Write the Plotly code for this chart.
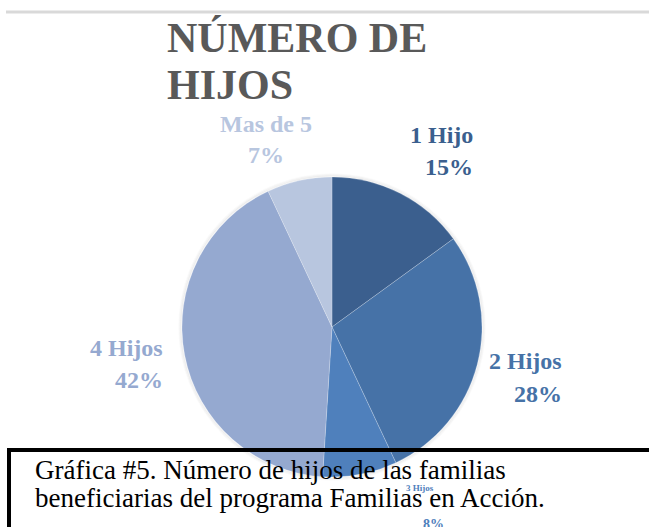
import plotly.graph_objects as go

# ---- data ----
categories = ["1 Hijo", "2 Hijos", "3 Hijos", "4 Hijos", "Mas de 5"]
percentages = [15, 28, 8, 42, 7]
slice_colors = ["#3b5f8e", "#4672a7", "#4f80bc", "#95a9d0", "#b8c6df"]
title_lines = ["NÚMERO DE", "HIJOS"]
caption_lines = ["Gráfica #5. Número de hijos de las familias",
                 "beneficiarias del programa Familias en Acción."]

W, H = 649, 527

def px(x):
    return x / W

def py(y):
    return 1 - y / H

SERIF = "Liberation Serif"

fig = go.Figure()

# pie: center (332, 327), radius 150
cx, cy, r = 332, 327, 150
fig.add_trace(go.Pie(
    labels=categories,
    values=percentages,
    sort=False,
    direction="clockwise",
    rotation=0,
    marker=dict(colors=slice_colors, line=dict(color="rgba(255,255,255,0.35)", width=0.6)),
    textinfo="none",
    hoverinfo="label+percent",
    showlegend=False,
    domain=dict(x=[px(cx - r), px(cx + r)], y=[py(cy + r), py(cy - r)]),
))

shapes = []
# soft shadow ring behind pie
for i, a in enumerate([0.05, 0.035, 0.02]):
    d = 1 + i
    shapes.append(dict(type="circle", xref="paper", yref="paper",
                       x0=px(cx - r - d), x1=px(cx + r + d),
                       y0=py(cy + r + d), y1=py(cy - r - d),
                       line=dict(color=f"rgba(0,0,0,{a})", width=1.5),
                       fillcolor="rgba(0,0,0,0)", layer="below"))
# gray rule at top
shapes.append(dict(type="line", xref="paper", yref="paper",
                   x0=px(6), x1=px(652), y0=py(12), y1=py(12),
                   line=dict(color="#d9d9d9", width=3), layer="above"))
# caption text box border (open to the right/bottom)
shapes.append(dict(type="line", xref="paper", yref="paper",
                   x0=px(9), x1=px(655), y0=py(450), y1=py(450),
                   line=dict(color="#000000", width=4), layer="above"))
shapes.append(dict(type="line", xref="paper", yref="paper",
                   x0=px(9), x1=px(9), y0=py(448), y1=py(540),
                   line=dict(color="#000000", width=4), layer="above"))

annotations = []

def add_text(text, x, y, size, color, xanchor="left", bold=False):
    annotations.append(dict(
        text=f"<b>{text}</b>" if bold else text,
        x=px(x), y=py(y), xref="paper", yref="paper",
        xanchor=xanchor, yanchor="middle", showarrow=False,
        font=dict(family=SERIF, size=size, color=color),
    ))

# title (baselines ~53 and ~100)
add_text(title_lines[0], 165, 53 - 0.35 * 42, 42, "#595959", bold=True)
add_text(title_lines[1], 165, 100 - 0.35 * 42, 42, "#595959", bold=True)

# data labels: (x, anchor, baseline name, baseline pct, font size)
label_pos = {
    "1 Hijo": (475, "right", 143, 175, 24),
    "2 Hijos": (564, "right", 369, 402, 24),
    "3 Hijos": (433, "center", 491, 529, None),
    "4 Hijos": (165, "right", 356, 388, 24),
    "Mas de 5": (266, "center", 132, 163, 24),
}
label_colors = ["#3b5f8e", "#4672a7", "#4f80bc", "#95a9d0", "#b8c6df"]
for cat, pct, col in zip(categories, percentages, label_colors):
    x, anc, b1, b2, fs = label_pos[cat]
    if fs is None:
        add_text(cat, 420, b1 - 0.35 * 9, 9, col, xanchor="center", bold=True)
        add_text(f"{pct}%", x, b2 - 0.35 * 14, 14, col, xanchor="center", bold=True)
    else:
        add_text(cat, x, b1 - 0.35 * fs, fs, col, xanchor=anc, bold=True)
        add_text(f"{pct}%", x, b2 - 0.35 * fs, fs, col, xanchor=anc, bold=True)

# caption
add_text(caption_lines[0], 33, 479 - 0.35 * 27, 27, "#000000")
add_text(caption_lines[1], 33, 507 - 0.35 * 27, 27, "#000000")

fig.update_layout(
    width=W, height=H,
    margin=dict(l=0, r=0, t=0, b=0),
    paper_bgcolor="white", plot_bgcolor="white",
    shapes=shapes, annotations=annotations,
)

fig.write_html("out.html",
               config={"displayModeBar": False},
               post_script="document.body.style.margin='0';document.body.style.overflow='hidden';")
